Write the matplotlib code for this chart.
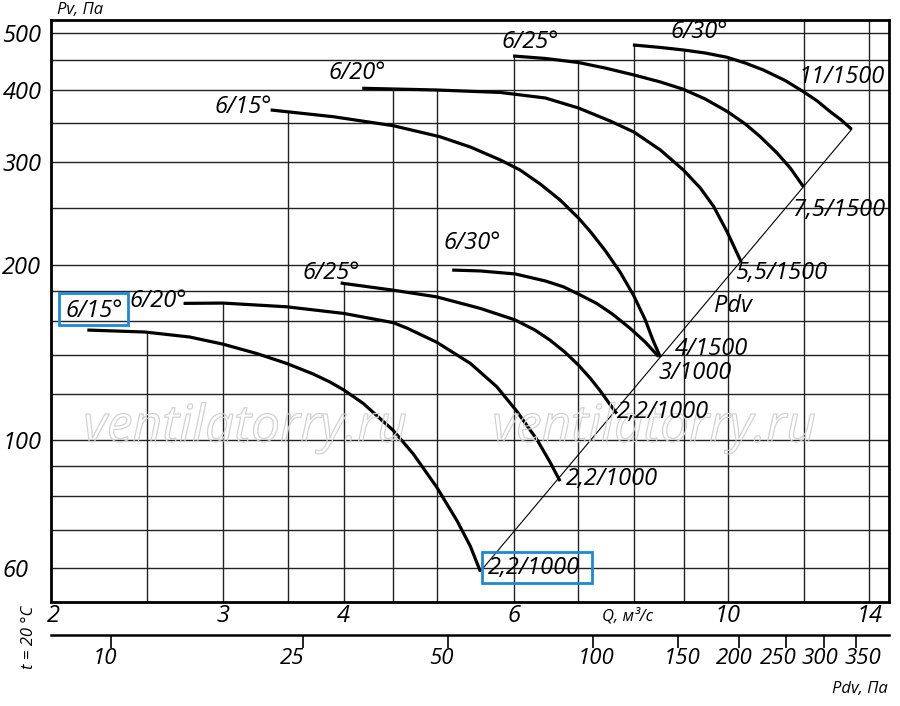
import numpy as np
import matplotlib.pyplot as plt
from matplotlib import patheffects
from matplotlib.patches import Rectangle
from matplotlib.ticker import NullLocator

plt.rcParams['font.family'] = ['Open Sans', 'DejaVu Sans']
plt.rcParams['font.style'] = 'italic'

# Pdv = K_DYN * Q^2 (dynamic pressure scale under the Q axis)
K_DYN = 1.9

# lower family (2,2 / 3 kW at 1000 rpm), Q in m3/s, Pv in Pa
q_15_low = [2.17, 2.49, 2.77, 3.00, 3.25, 3.49, 3.72, 3.87, 4.00, 4.19, 4.50, 4.72, 4.99, 5.24, 5.41, 5.54]
p_15_low = [154.3, 153.1, 150.1, 145.9, 140.6, 135.2, 129.6, 125.6, 121.7, 115.4, 103.7, 94.5, 82.9, 72.5, 65.5, 59.3]
q_20_low = [2.73, 3.00, 3.49, 4.00, 4.50, 4.65, 4.99, 5.41, 5.76, 6.04, 6.34, 6.54, 6.70]
p_20_low = [171.5, 171.7, 169.2, 164.8, 158.9, 155.5, 147.1, 135.2, 123.3, 112.0, 100.0, 91.5, 84.8]
q_25_low = [3.97, 4.49, 4.99, 5.54, 6.02, 6.31, 6.54, 6.78, 7.00, 7.20, 7.37, 7.51, 7.67]
p_25_low = [185.9, 180.8, 176.0, 168.1, 160.6, 154.3, 148.3, 141.3, 134.3, 127.5, 121.4, 116.2, 110.8]
q_30_low = [5.18, 5.54, 6.02, 6.47, 6.75, 7.03, 7.31, 7.59, 7.92, 8.21, 8.47]
p_30_low = [195.7, 195.0, 192.7, 187.4, 183.2, 177.3, 171.5, 164.4, 155.3, 147.1, 139.0]

# upper family (4 .. 11 kW at 1500 rpm)
q_15_up = [3.36, 3.49, 3.90, 4.50, 5.03, 5.41, 5.81, 6.09, 6.39, 6.70, 7.00, 7.20, 7.46, 7.73, 7.98, 8.21, 8.36, 8.51]
p_15_up = [369.0, 366.5, 359.3, 346.7, 331.9, 318.6, 302.7, 290.9, 275.2, 258.3, 240.5, 228.0, 211.5, 194.2, 177.3, 160.6, 148.3, 138.6]
q_20_up = [4.18, 4.99, 5.81, 6.47, 7.00, 7.55, 7.99, 8.51, 8.99, 9.36, 9.66, 9.98, 10.32]
p_20_up = [402.1, 399.4, 395.5, 386.9, 371.9, 353.2, 338.1, 314.9, 290.9, 270.9, 252.0, 227.6, 202.0]
q_25_up = [5.99, 6.47, 7.00, 7.46, 7.99, 8.51, 8.99, 9.47, 9.99, 10.42, 10.80, 11.24, 11.60, 11.97]
p_25_up = [457.0, 452.5, 445.3, 435.7, 423.9, 412.3, 400.5, 385.4, 366.5, 349.1, 331.9, 311.2, 293.2, 272.3]
q_30_up = [7.97, 8.51, 8.99, 9.47, 9.98, 10.42, 10.88, 11.46, 11.97, 12.37, 12.76, 13.10, 13.43]
p_30_up = [477.4, 472.7, 468.0, 462.4, 454.6, 444.4, 432.3, 414.7, 396.7, 382.4, 366.5, 354.6, 341.8]

curves = {
    "15low": (q_15_low, p_15_low), "20low": (q_20_low, p_20_low),
    "25low": (q_25_low, p_25_low), "30low": (q_30_low, p_30_low),
    "15up": (q_15_up, p_15_up), "20up": (q_20_up, p_20_up),
    "25up": (q_25_up, p_25_up), "30up": (q_30_up, p_30_up),
}

# grid
q_grid = [2.5, 3, 3.5, 4, 4.5, 5, 6, 7, 8, 9, 10, 12, 14]
q_grid_stop = ["15low", "20low", "15up", "25low", "20up", "20up", "25up", "25up",
               "30up", "30up", "30up", None, None]
p_grid = [60, 70, 80, 90, 100, 120, 140, 160, 180, 200, 250, 300, 350, 400, 450, 500]

q_ticks = [2, 3, 4, 6, 10, 14]
p_ticks = [60, 100, 200, 300, 400, 500]
pdv_ticks = [10, 25, 50, 100, 150, 200, 250, 300, 350]

W, H = 900, 706


def px(x, y):
    return x / W, 1 - y / H


fig = plt.figure(figsize=(W / 100, H / 100), dpi=100)
ax = fig.add_axes([51 / W, 1 - 601.7 / H, 838 / W, 581.7 / H])
ax.set_xscale('log')
ax.set_yscale('log')
ax.set_xlim(1.99, 14.68)
ax.set_ylim(52.6, 527)

for s in ax.spines.values():
    s.set_linewidth(2.0)

# horizontal grid lines, full width
for p in p_grid:
    ax.axhline(p, color='#222222', lw=1.0, zorder=1)

# vertical grid lines stop under the curves
y_top = ax.get_ylim()[1]
for q, name in zip(q_grid, q_grid_stop):
    if name is None:
        top = y_top
    else:
        cq, cp = curves[name]
        top = np.interp(np.log(q), np.log(cq), cp)
    ax.vlines(q, ax.get_ylim()[0], top, color='#222222', lw=1.0, zorder=1)

for cq, cp in curves.values():
    ax.plot(cq, cp, color='black', lw=2.3, solid_capstyle='butt',
            solid_joinstyle='round', zorder=3)

# Pdv line through the curve ends
ax.plot([q_15_low[-1], q_30_up[-1]], [p_15_low[-1], p_30_up[-1]],
        color='black', lw=0.8, zorder=2)

ax.xaxis.set_minor_locator(NullLocator())
ax.yaxis.set_minor_locator(NullLocator())
ax.set_xticks(q_ticks, [str(v) for v in q_ticks])
ax.set_yticks(p_ticks, [str(v) for v in p_ticks])
ax.tick_params(axis='both', length=0, labelsize=17)
ax.tick_params(axis='x', pad=2)
ax.tick_params(axis='y', pad=35)
for lbl in ax.get_yticklabels():
    lbl.set_horizontalalignment('left')

# Pdv scale below; labels set by hand since they crowd at the right end
sec = ax.secondary_xaxis(-0.0572, functions=(lambda q: K_DYN * np.asarray(q) ** 2,
                                             lambda p: np.sqrt(np.asarray(p) / K_DYN)))
sec.xaxis.set_minor_locator(NullLocator())
sec.set_xticks(pdv_ticks, [''] * len(pdv_ticks))
sec.tick_params(direction='out', length=9, width=1.2, pad=1)
sec.spines['bottom'].set_linewidth(1.8)
pdv_label_x = [105, 292, 441, 596, 682, 734, 778, 820, 863]
for v, x in zip(pdv_ticks, pdv_label_x):
    fig.text(*px(x, 659), str(v), fontsize=16, ha='center', va='center')

# watermarks
for x in (245, 654):
    fig.text(*px(x, 428), "ventilatorry.ru", fontsize=37, color=(1, 1, 1, 0),
             ha='center', va='center', zorder=0,
             path_effects=[patheffects.withStroke(linewidth=0.9, foreground='#d2d2d2')])

# curve labels
labels = [
    ("6/15°", 94, 311), ("6/20°", 158, 301), ("6/25°", 331, 273), ("6/30°", 472, 243),
    ("6/15°", 243, 107), ("6/20°", 357, 73), ("6/25°", 530, 42), ("6/30°", 699, 32),
    ("11/1500", 842, 77), ("7,5/1500", 839, 210), ("5,5/1500", 781, 273),
    ("Pdv", 733, 306), ("4/1500", 711, 349), ("3/1000", 695, 373),
    ("2,2/1000", 663, 412), ("2,2/1000", 612, 479), ("2,2/1000", 534, 568),
]
for txt, x, y in labels:
    fig.text(*px(x, y), txt, fontsize=17, ha='center', va='center')

fig.text(*px(80, 10), "Pv, Па", fontsize=12, ha='center', va='center')
fig.text(*px(628, 616), "Q, м³/с", fontsize=12, ha='center', va='center')
fig.text(*px(860, 689), "Pdv, Па", fontsize=12, ha='center', va='center')
fig.text(*px(29, 637), "t = 20 °C", fontsize=12, ha='center', va='center', rotation=90)

# blue highlight boxes
for x0, y0, x1, y1 in [(59.3, 293.3, 127.7, 325), (482, 552, 592, 583)]:
    fig.add_artist(Rectangle(px(x0, y1), (x1 - x0) / W, (y1 - y0) / H,
                             transform=fig.transFigure, fill=False,
                             edgecolor='#1a8ad8', lw=2))

fig.savefig('out.png', dpi=100)
